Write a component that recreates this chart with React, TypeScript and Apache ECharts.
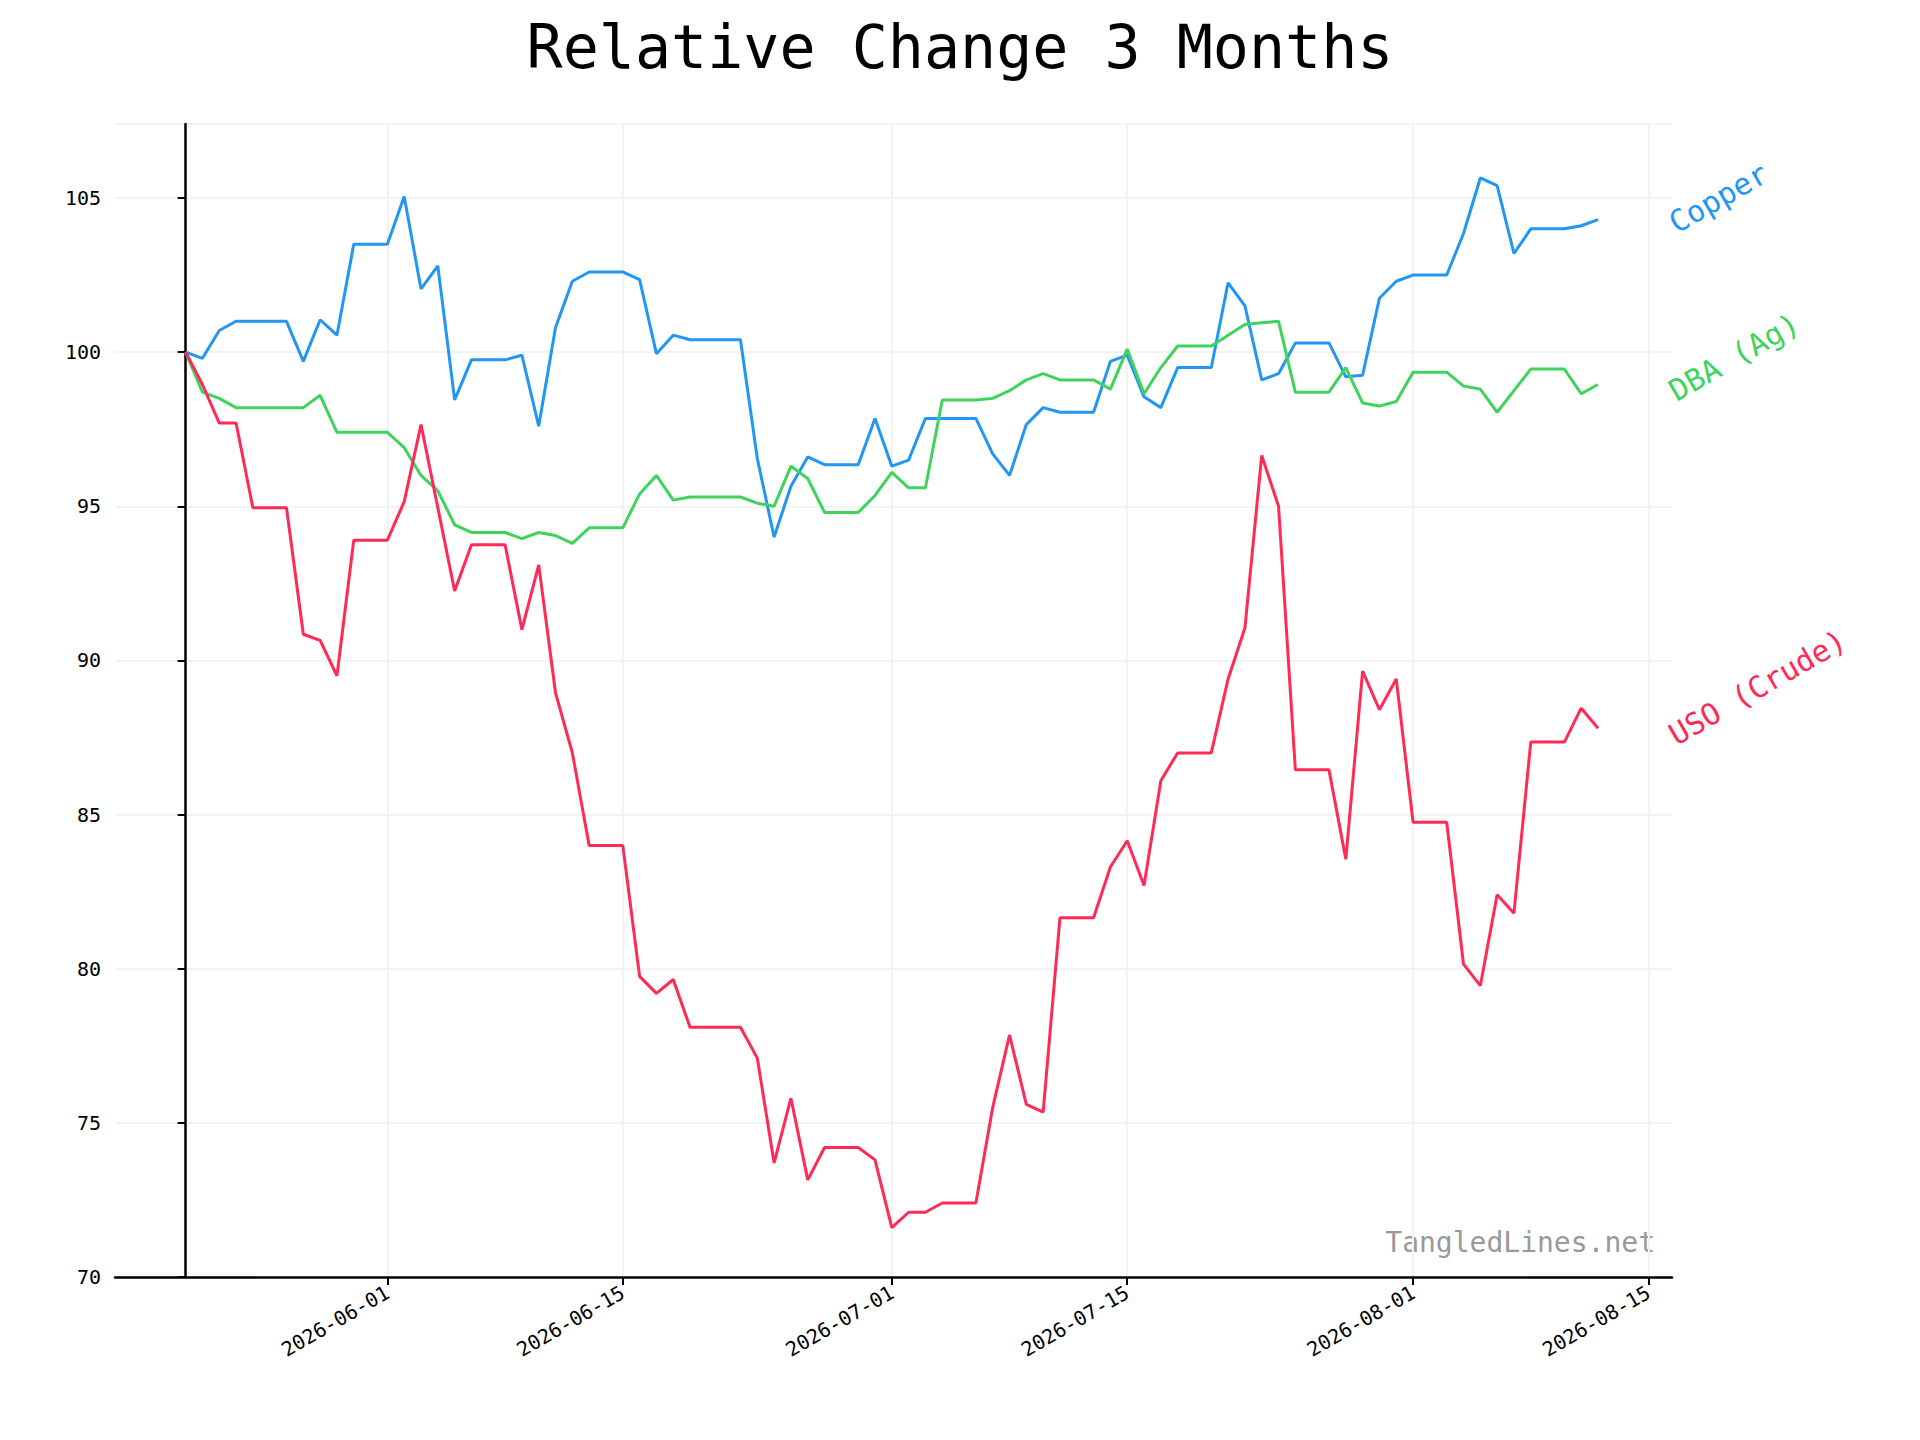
import { useRef, useEffect } from 'react';
import * as echarts from 'echarts';

const startDate = Date.UTC(2026, 4, 20);
const DAY = 86400000;

const copper = [
  100, 99.8, 100.7, 101, 101, 101, 101, 99.7, 101.05, 100.55,
  103.5, 103.5, 103.5, 105.05, 102.05, 102.8, 98.45, 99.75, 99.75, 99.75,
  99.9, 97.6, 100.8, 102.3, 102.6, 102.6, 102.6, 102.35, 99.95, 100.55,
  100.4, 100.4, 100.4, 100.4, 96.55, 94.0, 95.65, 96.6, 96.35, 96.35,
  96.35, 97.85, 96.3, 96.5, 97.85, 97.85, 97.85, 97.85, 96.7, 96.0,
  97.65, 98.2, 98.05, 98.05, 98.05, 99.7, 99.9, 98.55, 98.2, 99.5,
  99.5, 99.5, 102.25, 101.5, 99.1, 99.3, 100.3, 100.3, 100.3, 99.2,
  99.25, 101.75, 102.3, 102.5, 102.5, 102.5, 103.85, 105.65, 105.4, 103.2,
  104, 104, 104, 104.1, 104.3,
];

const dba = [
  100, 98.7, 98.5, 98.2, 98.2, 98.2, 98.2, 98.2, 98.6, 97.4,
  97.4, 97.4, 97.4, 96.9, 96.0, 95.5, 94.4, 94.15, 94.15, 94.15,
  93.95, 94.15, 94.05, 93.8, 94.3, 94.3, 94.3, 95.4, 96.0, 95.2,
  95.3, 95.3, 95.3, 95.3, 95.1, 95.0, 96.3, 95.9, 94.8, 94.8,
  94.8, 95.35, 96.1, 95.6, 95.6, 98.45, 98.45, 98.45, 98.5, 98.75,
  99.1, 99.3, 99.1, 99.1, 99.1, 98.8, 100.1, 98.65, 99.5, 100.2,
  100.2, 100.2, 100.55, 100.9, 100.95, 101.0, 98.7, 98.7, 98.7, 99.5,
  98.35, 98.25, 98.4, 99.35, 99.35, 99.35, 98.9, 98.8, 98.05, 98.75,
  99.45, 99.45, 99.45, 98.65, 98.95,
];

const uso = [
  100, 98.95, 97.7, 97.7, 94.95, 94.95, 94.95, 90.85, 90.65, 89.5,
  93.9, 93.9, 93.9, 95.15, 97.65, 94.95, 92.25, 93.75, 93.75, 93.75,
  91.0, 93.1, 88.95, 87.0, 84.0, 84.0, 84.0, 79.75, 79.2, 79.65,
  78.1, 78.1, 78.1, 78.1, 77.1, 73.7, 75.8, 73.15, 74.2, 74.2,
  74.2, 73.8, 71.6, 72.1, 72.1, 72.4, 72.4, 72.4, 75.5, 77.85,
  75.6, 75.35, 81.65, 81.65, 81.65, 83.3, 84.15, 82.7, 86.1, 87.0,
  87.0, 87.0, 89.4, 91.05, 96.65, 95.0, 86.45, 86.45, 86.45, 83.55,
  89.65, 88.4, 89.4, 84.75, 84.75, 84.75, 80.15, 79.45, 82.4, 81.8,
  87.35, 87.35, 87.35, 88.45, 87.8,
];

const tickDates = ['2026-06-01', '2026-06-15', '2026-07-01', '2026-07-15', '2026-08-01', '2026-08-15'];

const seriesDefs = [
  { name: 'Copper', data: copper, color: '#2196f3' },
  { name: 'DBA (Ag)', data: dba, color: '#3fd35c' },
  { name: 'USO (Crude)', data: uso, color: '#ff2a55' },
];

const mono = 'DejaVu Sans Mono';

// x values are days since startDate
const dayOf = (iso: string) => Math.round((Date.parse(iso + 'T00:00:00Z') - startDate) / DAY);
const dateLabel = (d: number) => new Date(startDate + Math.round(d) * DAY).toISOString().slice(0, 10);

export default function App() {
  const divRef = useRef<HTMLDivElement | null>(null);

  useEffect(() => {
    if (!divRef.current) {
      return;
    }
    const chart = echarts.init(divRef.current, null, { renderer: 'svg' });
    const tickDays = tickDates.map(dayOf);
    const axisLine = { show: true, lineStyle: { color: '#000', width: 2.5 } };
    const split = { show: true, lineStyle: { color: '#f3f3f3', width: 2 } };
    const tick = { show: true, length: 8, lineStyle: { color: '#000', width: 2 } };

    chart.setOption({
      animation: false,
      title: {
        text: 'Relative Change 3 Months',
        left: 'center',
        top: 12,
        textStyle: { fontFamily: mono, fontSize: 60, fontWeight: 'normal', color: '#000' },
      },
      grid: { left: 115, right: 248, top: 124, bottom: 163 },
      xAxis: {
        type: 'value',
        min: -4.2,
        max: 88.4,
        axisLine,
        axisTick: { ...tick, customValues: tickDays },
        axisLabel: {
          customValues: tickDays,
          rotate: 30,
          fontFamily: mono,
          fontSize: 20,
          color: '#000',
          margin: 14,
          formatter: (v: number) => dateLabel(v),
        },
        splitLine: split,
      },
      yAxis: {
        type: 'value',
        min: 70,
        max: 107.4,
        interval: 5,
        axisLine,
        axisTick: tick,
        axisLabel: {
          showMaxLabel: false,
          fontFamily: mono,
          fontSize: 20,
          color: '#000',
          margin: 14,
        },
        splitLine: split,
      },
      series: seriesDefs.map((s) => ({
        name: s.name,
        type: 'line',
        showSymbol: false,
        data: s.data.map((v, i) => [i, v]),
        lineStyle: { color: s.color, width: 3 },
        itemStyle: { color: s.color },
      })),
      graphic: [
        { type: 'text', x: 1679, y: 238, rotation: (30 * Math.PI) / 180, style: { text: 'Copper', fill: '#2196f3', font: `30px "${mono}"`, textVerticalAlign: 'bottom' } },
        { type: 'text', x: 1679, y: 406, rotation: (30 * Math.PI) / 180, style: { text: 'DBA (Ag)', fill: '#3fd35c', font: `30px "${mono}"`, textVerticalAlign: 'bottom' } },
        { type: 'text', x: 1679, y: 750, rotation: (30 * Math.PI) / 180, style: { text: 'USO (Crude)', fill: '#ff2a55', font: `30px "${mono}"`, textVerticalAlign: 'bottom' } },
        { type: 'text', right: 265, top: 1228, style: { text: 'TangledLines.net', fill: '#999', font: `28px "${mono}"` } },
      ],
    });

    return () => {
      chart.dispose();
    };
  }, []);

  return <div ref={divRef} style={{ position: 'absolute', left: 0, top: 0, width: '1920px', height: '1440px' }}></div>;
}
